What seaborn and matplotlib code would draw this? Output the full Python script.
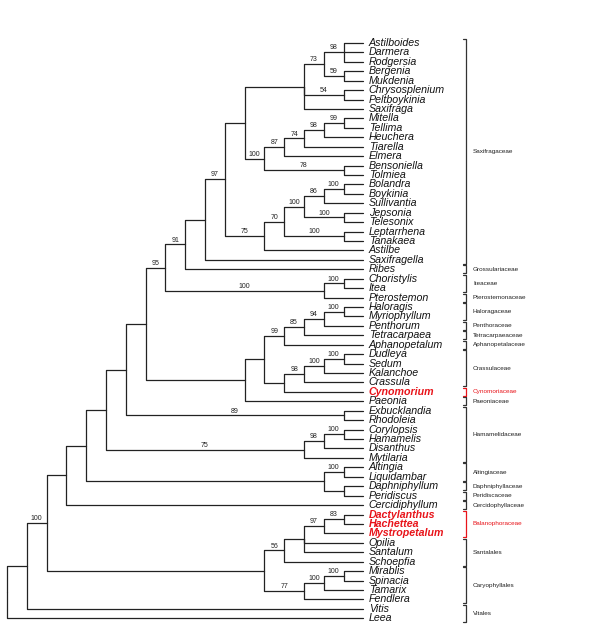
import numpy as np
import pandas as pd
import matplotlib
matplotlib.use("Agg")
import matplotlib.pyplot as plt
import seaborn as sns

# ------------------------------------------------------------------
# Tree topology (Newick) with bootstrap support on internal nodes
# ------------------------------------------------------------------
clade_astilboides = "((Astilboides,Darmera,Rodgersia)98,(Bergenia,Mukdenia)59)73"
clade_saxifraga = f"({clade_astilboides},(Chrysosplenium,Peltboykinia)54,Saxifraga)"
clade_heuchera = "(((((Mitella,Tellima)99,Heuchera)98,Tiarella)74,Elmera)87,(Bensoniella,Tolmiea)78)100"
clade_boykinia = "((((Bolandra,Boykinia)100,Sullivantia)86,(Jepsonia,Telesonix)100)100,(Leptarrhena,Tanakaea)100)70"
clade_saxifragaceae = f"((({clade_saxifraga},{clade_heuchera}),({clade_boykinia},Astilbe)75)97,Saxifragella)"
clade_itea = f"(({clade_saxifragaceae},Ribes)91,((Choristylis,Itea)100,Pterostemon)100)95"
clade_crassulaceae = ("(((((Haloragis,Myriophyllum)100,Penthorum)94,Tetracarpaea)85,Aphanopetalum)99,"
                      "((((Dudleya,Sedum)100,Kalanchoe)100,Crassula)98,Cynomorium))")
clade_paeonia = f"({clade_crassulaceae},Paeonia)"
clade_hamamelis = (f"((({clade_itea},{clade_paeonia}),(Exbucklandia,Rhodoleia)89),"
                   "(((Corylopsis,Hamamelis)100,Disanthus)98,Mytilaria)75)")
clade_altingia = f"(({clade_hamamelis},((Altingia,Liquidambar)100,(Daphniphyllum,Peridiscus))),Cercidiphyllum)"
clade_balanophora = ("(((((Dactylanthus,Hachettea)83,Mystropetalum)97,Opilia,Santalum),Schoepfia)56,"
                     "(((Mirablis,Spinacia)100,Tamarix)100,Fendlera)77)")
TREE = f"((({clade_altingia},{clade_balanophora})100,Vitis),Leea);"

red_taxa = ["Cynomorium", "Dactylanthus", "Hachettea", "Mystropetalum"]

family_names = ["Saxifragaceae", "Grossulariaceae", "Iteaceae", "Pterostemonaceae", "Haloragaceae",
                "Penthoraceae", "Tetracarpaeaceae", "Aphanopetalaceae", "Crassulaceae", "Cynomoriaceae",
                "Paeoniaceae", "Hamamelidaceae", "Altingiaceae", "Daphniphyllaceae", "Peridiscaceae",
                "Cercidophyllaceae", "Balanophoraceae", "Santalales", "Caryophyllales", "Vitales"]
family_sizes = [24, 1, 2, 1, 2, 1, 1, 1, 4, 1, 1, 6, 2, 1, 1, 1, 3, 3, 4, 2]
red_families = ["Cynomoriaceae", "Balanophoraceae"]


# ------------------------------------------------------------------
# Parse Newick and lay out a rectangular cladogram
# ------------------------------------------------------------------
def parse_newick(s):
    pos = 0

    def read_label():
        nonlocal pos
        start = pos
        while pos < len(s) and s[pos] not in ",();":
            pos += 1
        return s[start:pos]

    def node():
        nonlocal pos
        if s[pos] == "(":
            pos += 1
            kids = [node()]
            while s[pos] == ",":
                pos += 1
                kids.append(node())
            pos += 1
            return {"children": kids, "name": read_label()}
        return {"children": [], "name": read_label()}

    return node()


root = parse_newick(TREE)

leaves = []


def layout(n):
    if not n["children"]:
        n["y"] = len(leaves)
        n["h"] = 0
        leaves.append(n)
        return
    for c in n["children"]:
        layout(c)
    n["h"] = 1 + max(c["h"] for c in n["children"])
    n["y"] = (n["children"][0]["y"] + n["children"][-1]["y"]) / 2


layout(root)
depth = root["h"]

segs = []
supports = []


def collect(n):
    n["x"] = depth - n["h"]
    for c in n["children"]:
        c["x"] = depth - c["h"]
        sid = len(segs)
        segs.append(pd.DataFrame({"x": [n["x"], n["x"], c["x"]],
                                  "y": [n["y"], c["y"], c["y"]], "seg": sid}))
        if c["children"] and c["name"]:
            supports.append(((n["x"] + c["x"]) / 2, c["y"], c["name"]))
        collect(c)


collect(root)
df_segs = pd.concat(segs, ignore_index=True)

# ------------------------------------------------------------------
# Plot
# ------------------------------------------------------------------
sns.set_style("white")
plt.rcParams["font.family"] = ["Liberation Sans", "DejaVu Sans"]

fig = plt.figure(figsize=(6, 6.3), dpi=100)
ax = fig.add_axes([0, 0, 1, 1])

sns.lineplot(data=df_segs, x="x", y="y", units="seg", estimator=None, sort=False,
             color="#222222", linewidth=0.9, ax=ax)

# pixel mapping: level 0 at x=7px, 19.8px per level; leaf 0 at y=43px, 9.43px per leaf
px_x, px_dx = 7, 19.8
px_y, px_dy = 43, 9.43
ax.set_xlim(-px_x / px_dx, (600 - px_x) / px_dx)
ax.set_ylim((630 - px_y) / px_dy, -px_y / px_dy)
ax.axis("off")

for lf in leaves:
    red = lf["name"] in red_taxa
    ax.text(depth + 0.27, lf["y"], lf["name"], fontsize=7.7, style="italic",
            fontweight="bold" if red else "normal", color="#e8141a" if red else "#111111",
            va="center", ha="left")

for sx, sy, lab in supports:
    ax.text(sx, sy - 0.1, lab, fontsize=5, color="#222222", ha="center", va="bottom")

# family brackets
bx = (466 - px_x) / px_dx
tick = 3 / px_dx
start = 0
for name, size in zip(family_names, family_sizes):
    y0 = start - 0.42
    y1 = start + size - 1 + 0.42
    col = "#e8141a" if name in red_families else "#333333"
    ax.plot([bx - tick, bx, bx, bx - tick], [y0, y0, y1, y1], color=col, lw=0.9)
    ax.text(bx + 0.35, (y0 + y1) / 2, name, fontsize=4.6,
            color="#e8141a" if name in red_families else "#222222", va="center", ha="left")
    start += size

fig.savefig("out.png", dpi=100)
